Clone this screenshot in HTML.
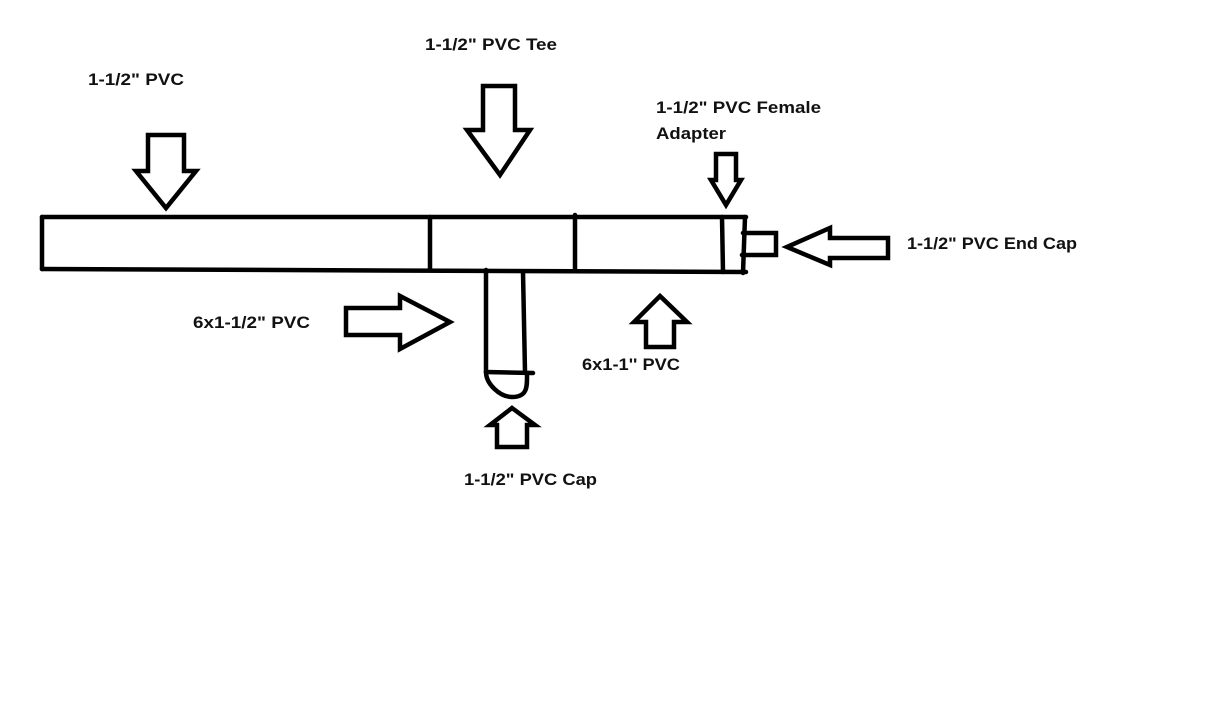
<!DOCTYPE html>
<html><head><meta charset="utf-8"><style>
html,body{margin:0;padding:0;background:#fff;}
svg{display:block;}
text{font-family:"Liberation Sans",sans-serif;font-weight:bold;font-size:17px;fill:#111;}
</style></head><body>
<svg width="1222" height="724" viewBox="0 0 1222 724" xmlns="http://www.w3.org/2000/svg">
<g fill="none" stroke="#000" stroke-width="4.5" stroke-linejoin="miter" stroke-linecap="round">
<line x1="42" y1="217" x2="746" y2="217"/>
<line x1="42" y1="269" x2="746" y2="272"/>
<line x1="42" y1="217" x2="42" y2="269"/>
<line x1="430" y1="217" x2="430" y2="269"/>
<line x1="575" y1="215" x2="575" y2="271"/>
<line x1="722" y1="217" x2="723" y2="272"/>
<line x1="745" y1="217" x2="743" y2="273"/>
<polyline points="743,233 776,233 776,255 742,255"/>
<line x1="486" y1="270" x2="486" y2="372"/>
<line x1="523" y1="272" x2="525" y2="372"/>
<line x1="486" y1="372" x2="533" y2="373"/>
<path d="M486,372 C486,384 500,397 512,397 C528,397 527,386 527,374"/>
<polygon points="148,135 184,135 184,171 196,171 166,208 136,171 148,171"/>
<polygon points="483,86 515,86 515,130 530,130 500,175 467,130 483,130"/>
<polygon points="716,154 736,154 736,180 741,180 726,205 711,180 716,180"/>
<polygon points="888,238 888,258 830,258 830,265 787,247 830,228 830,238"/>
<polygon points="346,308 400,308 400,296 450,322 400,349 400,335 346,335"/>
<polygon points="660,296 687,322 674,322 674,347 646,347 646,322 634,322"/>
<polygon points="512,408 535,425 527,425 527,447 497,447 497,425 490,425"/>
</g>
<text x="88" y="85" textLength="96" lengthAdjust="spacingAndGlyphs">1-1/2" PVC</text>
<text x="425" y="50" textLength="132" lengthAdjust="spacingAndGlyphs">1-1/2" PVC Tee</text>
<text x="656" y="113" textLength="165" lengthAdjust="spacingAndGlyphs">1-1/2" PVC Female</text>
<text x="656" y="139" textLength="70" lengthAdjust="spacingAndGlyphs">Adapter</text>
<text x="907" y="249" textLength="170" lengthAdjust="spacingAndGlyphs">1-1/2" PVC End Cap</text>
<text x="193" y="328" textLength="117" lengthAdjust="spacingAndGlyphs">6x1-1/2" PVC</text>
<text x="582" y="370" textLength="98" lengthAdjust="spacingAndGlyphs">6x1-1'' PVC</text>
<text x="464" y="485" textLength="133" lengthAdjust="spacingAndGlyphs">1-1/2" PVC Cap</text>
</svg>
</body></html>
